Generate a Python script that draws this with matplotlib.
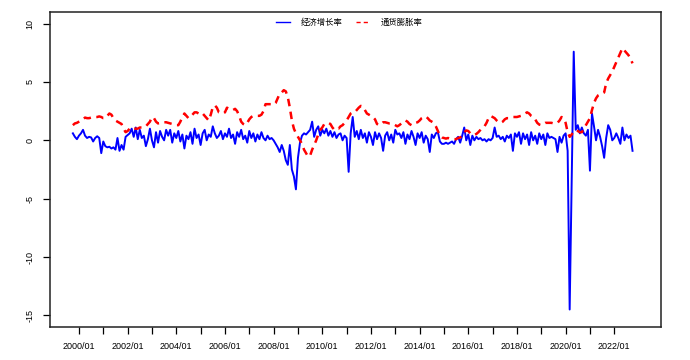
import matplotlib
matplotlib.use("Agg")
import matplotlib.pyplot as plt
import numpy as np

plt.rcParams['font.family'] = ['Liberation Sans', 'Noto Sans CJK SC', 'DejaVu Sans']

# monthly series, 1999/10 .. 2022/10
start_year, start_month = 1999, 10

growth = [
    0.6, 0.3, 0.1,                                                    # 1999 Oct-Dec
    0.4, 0.6, 0.9, 0.4, 0.2, 0.3, 0.25, -0.1, 0.2, 0.35, 0.2, -1.1,    # 2000
    -0.1, -0.5, -0.6, -0.55, -0.7, -0.6, -0.8, 0.2, -0.9, -0.4, -0.8, 0.3,  # 2001
    0.45, 0.6, 1.0, 0.3, 1.1, 0.1, 0.9, 0.2, 0.4, -0.5, 0.1, 1.0,      # 2002
    0.0, -0.6, 0.7, -0.2, 0.8, 0.3, 0.0, 0.9, 0.4, 0.9, -0.2, 0.6,     # 2003
    0.2, 0.8, -0.1, 0.5, -0.7, 0.4, 0.1, 0.7, -0.3, 1.0, 0.2, 0.5,     # 2004
    -0.4, 0.6, 0.9, 0.0, 0.5, 0.3, 1.2, 0.6, 0.2, 0.4, 0.8, 0.1,       # 2005
    0.6, 0.3, 1.0, 0.2, 0.5, -0.3, 0.7, 0.3, 0.9, 0.1, 0.4, -0.2,      # 2006
    0.8, 0.2, 0.6, -0.1, 0.5, 0.1, 0.7, 0.2, 0.0, 0.4, 0.1, 0.2,       # 2007
    0.0, -0.3, -0.6, -1.0, -0.4, -0.9, -1.7, -2.1, -0.4, -2.5, -3.1, -4.2,  # 2008
    -1.5, -0.2, 0.4, 0.6, 0.5, 0.7, 0.9, 1.6, 0.3, 0.9, 1.2, 0.4,      # 2009
    0.9, 0.6, 1.0, 0.4, 0.8, 0.3, 0.7, 0.2, 0.5, 0.6, 0.0, 0.4,        # 2010
    0.2, -2.7, 0.6, 2.0, 0.3, 0.8, 0.1, 0.9, 0.2, 0.6, -0.2, 0.7,      # 2011
    0.3, -0.4, 0.7, 0.1, 0.6, 0.2, -0.9, 0.4, 0.7, 0.0, 0.5, -0.2,     # 2012
    0.9, 0.5, 0.6, 0.2, 0.7, -0.3, 0.5, 0.1, 0.8, 0.3, -0.4, 0.6,      # 2013
    0.2, 0.7, -0.2, 0.4, 0.1, -1.0, 0.5, 0.2, 0.6, 0.7, -0.1, -0.3,    # 2014
    -0.3, -0.2, -0.3, -0.2, -0.1, -0.3, 0.1, 0.3, -0.2, 0.4, 1.1, 0.0, # 2015
    0.5, -0.4, 0.4, 0.0, 0.3, 0.1, 0.2, 0.0, 0.1, -0.1, 0.1, 0.0,      # 2016
    0.2, 1.1, 0.3, 0.4, 0.1, 0.3, -0.1, 0.4, 0.2, 0.5, -0.9, 0.6,      # 2017
    0.3, 0.7, -0.3, 0.6, 0.1, 0.5, -0.4, 0.7, 0.0, 0.4, -0.3, 0.6,     # 2018
    0.1, 0.5, -0.4, 0.6, 0.2, 0.3, 0.2, 0.1, -1.0, 0.3, -0.2, 0.4,     # 2019
    0.6, -0.9, -14.5, -3.5, 7.6, 0.9, 1.3, 0.6, 1.1, 0.6, 0.4, 0.9,    # 2020
    -2.6, 2.3, 1.2, 0.0, 0.9, 0.3, -0.5, -1.5, 0.2, 1.3, 0.9, 0.0,     # 2021
    0.2, 0.6, 0.2, -0.3, 1.1, 0.0, 0.5, 0.2, 0.4, -0.9,                # 2022 Jan-Oct
]

inflation = [
    1.3, 1.45, 1.5,                                                    # 1999 Oct-Dec
    1.6, 1.7, 1.8, 1.95, 1.9, 1.9, 1.95, 2.0, 2.0, 2.0, 2.05, 2.0,     # 2000
    1.9, 1.9, 2.1, 2.3, 2.2, 1.9, 1.7, 1.6, 1.5, 1.4, 1.0, 0.7,        # 2001
    0.8, 1.0, 0.9, 1.0, 1.0, 1.0, 1.1, 1.1, 1.1, 1.2, 1.4, 1.6,        # 2002
    2.0, 1.9, 1.6, 1.45, 1.5, 1.5, 1.55, 1.55, 1.5, 1.45, 1.4, 1.35,   # 2003
    1.3, 1.3, 1.6, 2.0, 2.3, 2.1, 1.9, 2.0, 2.2, 2.4, 2.4, 2.3,        # 2004
    2.2, 2.3, 2.1, 1.9, 1.7, 2.2, 2.85, 3.0, 2.8, 2.4, 2.35, 2.3,      # 2005
    2.4, 2.8, 2.7, 2.6, 2.6, 2.7, 2.5, 2.1, 1.6, 1.4, 1.3, 1.5,        # 2006
    1.8, 2.0, 2.1, 2.1, 2.1, 2.1, 2.2, 2.5, 3.1, 3.1, 3.1, 3.1,        # 2007
    3.05, 3.2, 3.6, 4.0, 4.1, 4.3, 4.2, 3.7, 2.8, 1.7, 1.0, 0.6,       # 2008
    0.3, 0.0, -0.3, -0.8, -1.1, -1.4, -1.3, -0.8, -0.4, 0.0, 0.5, 0.9, # 2009
    1.1, 1.4, 1.45, 1.5, 1.4, 1.1, 0.9, 1.0, 1.0, 1.2, 1.3, 1.5,       # 2010
    1.7, 2.0, 2.3, 2.4, 2.4, 2.6, 2.8, 2.95, 2.9, 2.6, 2.3, 2.2,       # 2011
    2.1, 2.0, 1.8, 1.4, 1.3, 1.4, 1.55, 1.55, 1.5, 1.45, 1.45, 1.4,    # 2012
    1.3, 1.2, 1.3, 1.45, 1.6, 1.7, 1.6, 1.4, 1.3, 1.35, 1.5, 1.55,     # 2013
    1.7, 1.9, 2.0, 2.05, 1.9, 1.7, 1.6, 1.5, 1.2, 0.8, 0.4, 0.25,      # 2014
    0.2, 0.15, 0.2, 0.15, 0.15, 0.1, 0.1, 0.2, 0.25, 0.4, 0.7, 0.85,   # 2015
    0.8, 0.6, 0.5, 0.45, 0.55, 0.7, 0.9, 1.1, 1.2, 1.5, 1.9, 2.1,      # 2016
    2.0, 1.9, 1.7, 1.55, 1.5, 1.6, 1.8, 1.9, 1.9, 1.95, 2.0, 2.0,      # 2017
    2.0, 2.05, 2.1, 2.2, 2.3, 2.4, 2.3, 2.1, 2.0, 1.8, 1.5, 1.35,      # 2018
    1.3, 1.4, 1.5, 1.5, 1.5, 1.5, 1.45, 1.45, 1.5, 1.7, 2.0, 1.9,      # 2019
    1.5, 0.7, 0.3, 0.5, 0.8, 0.85, 0.8, 0.7, 0.7, 1.0, 1.3, 1.6,       # 2020
    1.9, 2.6, 3.2, 3.6, 3.85, 3.95, 4.0, 4.1, 4.9, 5.3, 5.6, 5.9,      # 2021
    6.3, 6.7, 7.1, 7.5, 7.9, 7.7, 7.5, 7.3, 7.0, 6.6,                  # 2022 Jan-Oct
]

tick_years = list(range(2000, 2023))
tick_labels = ['%d/01' % y if y % 2 == 0 else '' for y in tick_years]

t = start_year + (start_month - 1) / 12 + np.arange(len(growth)) / 12

fig = plt.figure(figsize=(6.9, 3.6), dpi=100)
ax = fig.add_axes([50/690, 1 - 327/360, 611/690, 315/360])

ax.plot(t, growth, color='blue', lw=1.4, label='经济增长率')
ax.plot(t, inflation, color='red', lw=1.8, dashes=(3, 2.2), label='通货膨胀率')

ax.set_xlim(1998.81, 2023.92)
ax.set_ylim(-16, 11)
ax.set_xticks(tick_years)
ax.set_xticklabels(tick_labels, fontsize=6.5)
ax.set_yticks([-15, -10, -5, 0, 5, 10])
ax.set_yticklabels(['-15', '-10', '-5', '0', '5', '10'], fontsize=6.5, rotation=90, va='center')
ax.tick_params(direction='out', length=5, width=0.9, pad=6)

for s in ax.spines.values():
    s.set_linewidth(1.1)
    s.set_color('#222222')

leg = ax.legend(loc='upper center', bbox_to_anchor=(0.49, 1.005), ncol=2, frameon=False,
                prop={'family': ['Noto Sans CJK SC', 'DejaVu Sans'], 'size': 6},
                handlelength=1.7, columnspacing=1.6, handletextpad=1.3)
for h in leg.get_lines():
    h.set_linewidth(1.0)

fig.savefig('out.png', dpi=100)
